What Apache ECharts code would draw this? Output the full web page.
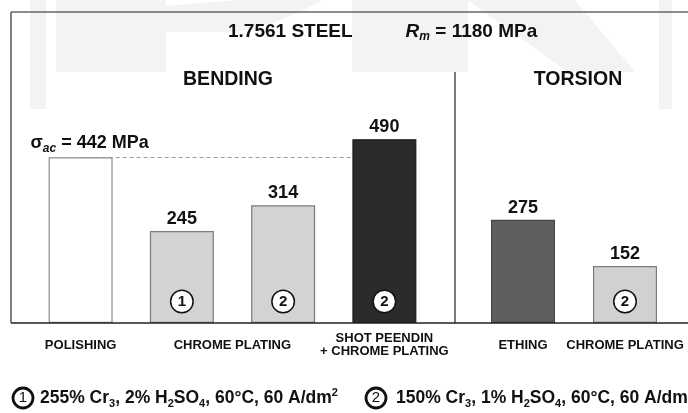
<!DOCTYPE html>
<html>
<head>
<meta charset="utf-8">
<script src="https://cdn.jsdelivr.net/npm/echarts@6/dist/echarts.min.js"></script>
<style>
  html, body { margin: 0; padding: 0; background: #fff; }
  #chart { width: 688px; height: 413px; }
</style>
</head>
<body>
<div id="chart"></div>
<script>
// bending tests
const bendCats = ["POLISHING", "CHROME PLATING", "CHROME PLATING", "SHOT PEENDIN\n+ CHROME PLATING"];
const bendValues = [442, 245, 314, 490];
const bendBaths = ["", "1", "2", "2"];
// torsion tests
const torsCats = ["ETHING", "CHROME PLATING"];
const torsValues = [275, 152];
const torsBaths = ["", "2"];
// fatigue limit after polishing (reference line)
const sigmaAc = 442;

const bendFill = ["#ffffff", "#d3d3d3", "#d3d3d3", "#2b2b2b"];
const bendEdge = ["#8c8c8c", "#7c7c7c", "#7c7c7c", "#1c1c1c"];
const torsFill = ["#5f5f5f", "#d1d1d1"];
const torsEdge = ["#454545", "#7c7c7c"];

const F = "Liberation Sans, Arial, sans-serif";
const WM = "#f3f3f3"; // faint watermark behind the plot

const circleTok = {
  width: 21, height: 21, lineHeight: 21, borderRadius: 11,
  borderWidth: 1.5, borderColor: "#111", backgroundColor: "#fff",
  align: "center", fontSize: 15, fontWeight: "bold", fontFamily: F, color: "#111"
};

function barSeries(idx, values, fill, edge) {
  return {
    type: "bar", xAxisIndex: idx, yAxisIndex: idx,
    barWidth: 64, barGap: "-100%", z: 2, silent: true,
    data: values.map((v, i) => ({
      value: v,
      itemStyle: { color: fill[i], borderColor: edge[i], borderWidth: 1.2 }
    })),
    label: {
      show: true, position: "top", distance: 3,
      fontSize: 18, fontWeight: "bold", color: "#111", fontFamily: F
    }
  };
}

function bathSeries(idx, values, baths) {
  return {
    type: "bar", xAxisIndex: idx, yAxisIndex: idx,
    barWidth: 64, barGap: "-100%", z: 3, silent: true,
    itemStyle: { color: "transparent" },
    data: values.map((v, i) => ({ value: v, label: { show: baths[i] !== "" } })),
    label: {
      position: "insideBottom", distance: 11,
      formatter: (p) => "{c|" + baths[p.dataIndex] + "}",
      rich: { c: circleTok }
    }
  };
}

const bend = barSeries(0, bendValues, bendFill, bendEdge);
bend.data[0].label = {
  formatter: "{s|σ}{ac|ac}{b| = " + sigmaAc + " MPa}",
  offset: [9, 0],
  rich: {
    s: { fontSize: 18, fontWeight: "bold", fontFamily: F, color: "#111", lineHeight: 22 },
    ac: { fontSize: 12, fontWeight: "bold", fontStyle: "italic", fontFamily: F, color: "#111", lineHeight: 12, verticalAlign: "bottom" },
    b: { fontSize: 18, fontWeight: "bold", fontFamily: F, color: "#111", lineHeight: 22 }
  }
};
bend.markLine = {
  z: 1, silent: true, symbol: "none",
  label: { show: false },
  lineStyle: { type: [4, 3], color: "#9a9a9a", width: 1.2 },
  data: [[{ coord: [0, sigmaAc] }, { coord: [3, sigmaAc] }]]
};

const catLabel = {
  interval: 0, margin: 22, verticalAlign: "middle", lineHeight: 13,
  fontSize: 13, fontWeight: "bold", color: "#111", fontFamily: F
};

const txt = { fontSize: 19, fontWeight: "bold", fontFamily: F, fill: "#111", lineHeight: 22 };
const sub = { fontSize: 11, fontWeight: "bold", fontFamily: F, fill: "#111", lineHeight: 11, verticalAlign: "bottom" };
const sup = { fontSize: 11, fontWeight: "bold", fontFamily: F, fill: "#111", lineHeight: 11, verticalAlign: "top" };
const noteTxt = Object.assign({}, txt, { fontSize: 17.5 });
const noteCircle = Object.assign({}, circleTok, {
  fill: "#111", fontWeight: "normal", backgroundColor: "transparent",
  width: 20, height: 20, lineHeight: 20, borderWidth: 1.4
});
const head = { align: "center", verticalAlign: "middle", fontSize: 19.5, fontWeight: "bold", fontFamily: F, fill: "#111" };

const option = {
  animation: false,
  backgroundColor: "#fff",
  grid: [
    { left: 30, width: 405, top: 23, bottom: 90 },
    { left: 472, width: 204, top: 23, bottom: 90 }
  ],
  xAxis: [
    {
      gridIndex: 0, type: "category", data: bendCats,
      axisLine: { show: false }, axisTick: { show: false },
      axisLabel: Object.assign({}, catLabel, {
        formatter: (v, i) => (i === 2 ? "" : i === 1 ? "{sh|" + v + "}" : v),
        rich: { sh: { padding: [0, 0, 0, 101], fontSize: 13, fontWeight: "bold", color: "#111", fontFamily: F } }
      })
    },
    {
      gridIndex: 1, type: "category", data: torsCats,
      axisLine: { show: false }, axisTick: { show: false },
      axisLabel: catLabel
    }
  ],
  yAxis: [
    { gridIndex: 0, type: "value", min: 0, max: 800, show: false },
    { gridIndex: 1, type: "value", min: 0, max: 800, show: false }
  ],
  series: [
    bend,
    bathSeries(0, bendValues, bendBaths),
    barSeries(1, torsValues, torsFill, torsEdge),
    bathSeries(1, torsValues, torsBaths)
  ],
  graphic: [
    // watermark
    { type: "rect", z: -10, shape: { x: 30, y: 0, width: 16, height: 109 }, style: { fill: WM } },
    { type: "rect", z: -10, shape: { x: 56, y: 0, width: 110, height: 72 }, style: { fill: WM } },
    { type: "polygon", z: -10, shape: { points: [[166, 6], [200, 3], [240, 0], [322, 0], [300, 12], [270, 24], [235, 32], [166, 32]] }, style: { fill: WM } },
    { type: "rect", z: -10, shape: { x: 352, y: 0, width: 116, height: 72 }, style: { fill: WM } },
    { type: "polygon", z: -10, shape: { points: [[468, 0], [575, 0], [635, 72], [568, 72]] }, style: { fill: WM } },
    { type: "rect", z: -10, shape: { x: 659, y: 0, width: 13, height: 109 }, style: { fill: WM } },
    // frame
    { type: "line", shape: { x1: 11, y1: 12, x2: 688, y2: 12 }, style: { stroke: "#666", lineWidth: 1.5 } },
    { type: "line", shape: { x1: 11, y1: 12, x2: 11, y2: 323 }, style: { stroke: "#555", lineWidth: 1.5 } },
    { type: "line", shape: { x1: 11, y1: 323, x2: 688, y2: 323 }, style: { stroke: "#222", lineWidth: 1.5 }, z: 10 },
    { type: "line", shape: { x1: 455, y1: 72, x2: 455, y2: 323 }, style: { stroke: "#333", lineWidth: 1.3 } },
    // headings
    {
      type: "text", x: 228, y: 32,
      style: {
        text: "{b|1.7561 STEEL}{sp|}{r|R}{m|m}{b| = 1180 MPa}",
        verticalAlign: "middle",
        rich: {
          b: txt,
          sp: { width: 53 },
          r: Object.assign({}, txt, { fontStyle: "italic" }),
          m: Object.assign({}, sub, { fontStyle: "italic", fontSize: 12, lineHeight: 12 })
        }
      }
    },
    { type: "text", x: 228, y: 80, style: Object.assign({ text: "BENDING" }, head) },
    { type: "text", x: 578, y: 80, style: Object.assign({ text: "TORSION" }, head) },
    // bath notes
    {
      type: "text", x: 13, y: 398,
      style: {
        text: "{c|1}{sp|}{t|255% Cr}{d|3}{t|, 2% H}{d|2}{t|SO}{d|4}{t|, 60°C, 60 A/dm}{u|2}",
        verticalAlign: "middle",
        rich: { c: noteCircle, sp: { width: 7 }, t: noteTxt, d: sub, u: sup }
      }
    },
    {
      type: "text", x: 366, y: 398,
      style: {
        text: "{c|2}{sp|}{t|150% Cr}{d|3}{t|, 1% H}{d|2}{t|SO}{d|4}{t|, 60°C, 60 A/dm}{u|2}",
        verticalAlign: "middle",
        rich: { c: noteCircle, sp: { width: 10 }, t: noteTxt, d: sub, u: sup }
      }
    }
  ]
};

const myChart = echarts.init(document.getElementById("chart"));
myChart.setOption(option);
</script>
</body>
</html>
